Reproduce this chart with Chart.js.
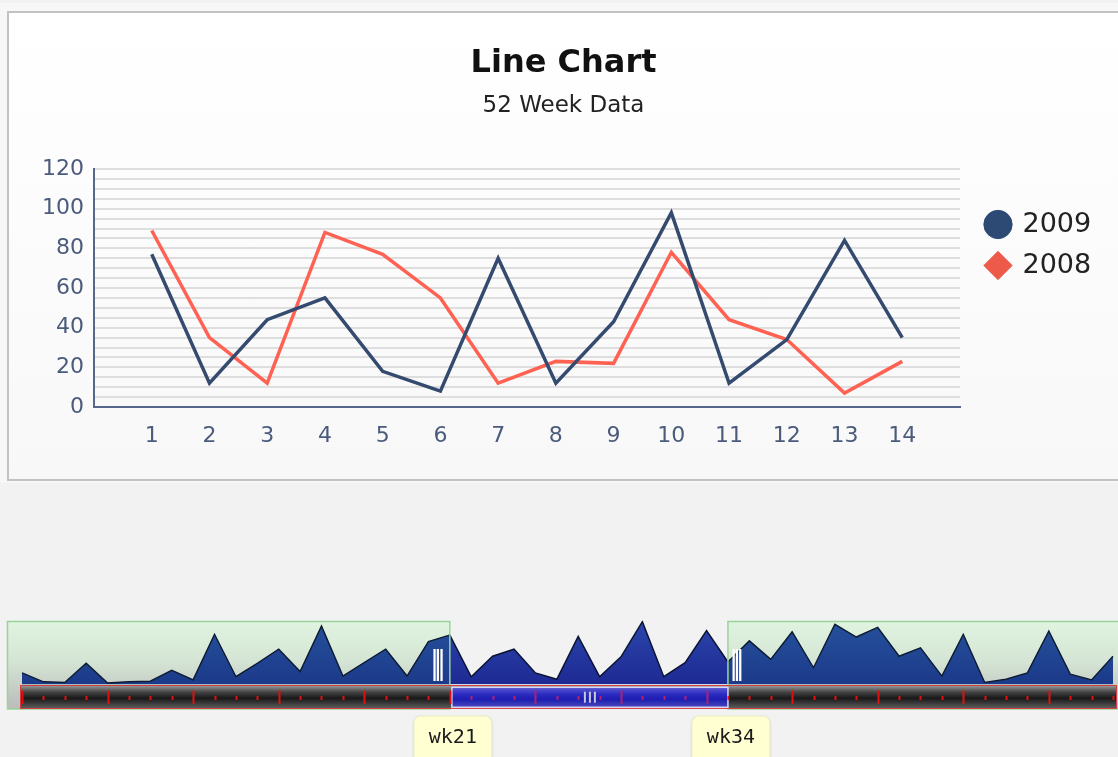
<!DOCTYPE html>
<html><head><meta charset="utf-8">
<script src="https://cdn.jsdelivr.net/npm/chart.js@4.4.1/dist/chart.umd.min.js"></script>
<style>
html,body{margin:0;padding:0;background:#f2f2f2;width:1118px;height:757px;overflow:hidden;position:relative;}
#strip{position:absolute;left:0;top:3px;width:1118px;height:480px;background:#f7f7f7;}
#panel{position:absolute;left:7px;top:11px;width:1130px;height:466px;border:2px solid #c2c2c2;background:linear-gradient(#ffffff,#f8f8f8);}
#main{position:absolute;left:9px;top:13px;}
#nav{position:absolute;left:0;top:600px;}
</style></head>
<body>
<div id="strip"></div>
<div id="panel"></div>
<canvas id="main" width="1109" height="466"></canvas>
<canvas id="nav" width="1118" height="157"></canvas>
<script>
// ---- data ----
const categories = [1,2,3,4,5,6,7,8,9,10,11,12,13,14];
const series2009 = [77,12,44,55,18,8,75,12,43,98,12,34,84,35];
const series2008 = [89,35,12,88,77,55,12,23,22,78,44,34,7,23];
const yTickLabels = [0,20,40,60,80,100,120];
const weeks = ['wk1','wk2','wk3','wk4','wk5','wk6','wk7','wk8','wk9','wk10','wk11','wk12','wk13',
  'wk14','wk15','wk16','wk17','wk18','wk19','wk20','wk21','wk22','wk23','wk24','wk25','wk26',
  'wk27','wk28','wk29','wk30','wk31','wk32','wk33','wk34','wk35','wk36','wk37','wk38','wk39',
  'wk40','wk41','wk42','wk43','wk44','wk45','wk46','wk47','wk48','wk49','wk50','wk51','wk52'];
const weekly2009 = [18,4,3,33,2,4,5,22,7,78,12,33,55,20,91,13,34,55,13,67,
  77,12,44,55,18,8,75,12,43,98,12,34,84,35,
  68,39,82,26,94,74,89,44,57,13,78,3,8,18,83,16,7,44];
const selectionStart = 'wk21';
const selectionEnd = 'wk34';
const seriesNames = ['2009','2008'];

const FONT = 'DejaVu Sans';
const TICK_COLOR = '#4b5b7c';
const AXIS_COLOR = '#55678a';

// ---- main chart ----
const legendTweak = {
  id: 'legendTweak',
  beforeLayout(chart) {
    const lg = chart.legend;
    if (lg && !lg._wrappedFit) {
      const fit = lg.fit.bind(lg);
      lg.fit = function () { fit(); this.width = 158; };
      lg._wrappedFit = true;
    }
  },
  afterLayout(chart) {
    const lg = chart.legend;
    const dx = 13, dy = 28;
    lg.left += dx; lg.right += dx; lg.top += dy; lg.bottom += dy;
  }
};

new Chart(document.getElementById('main'), {
  type: 'line',
  data: {
    datasets: [
      { label: seriesNames[0], data: categories.map((c, i) => ({x: c, y: series2009[i]})),
        borderColor: '#344a6f', backgroundColor: '#2d4a74', borderWidth: 3.5,
        pointRadius: 0, pointStyle: 'circle', tension: 0 },
      { label: seriesNames[1], data: categories.map((c, i) => ({x: c, y: series2008[i]})),
        borderColor: '#ff6253', backgroundColor: '#ee5a49', borderWidth: 3.5,
        pointRadius: 0, pointStyle: 'rectRot', tension: 0 }
    ]
  },
  options: {
    responsive: false, animation: false,
    layout: { padding: 0 },
    scales: {
      x: {
        type: 'linear', min: 0, max: 15,
        grid: { display: false, drawTicks: false },
        border: { display: true, color: AXIS_COLOR, width: 2 },
        ticks: { stepSize: 1, autoSkip: false, maxRotation: 0, padding: 16, color: TICK_COLOR,
          font: { family: FONT, size: 22 },
          callback: v => categories.includes(v) ? String(v) : '' },
        afterFit: s => { s.height = 72; }
      },
      y: {
        min: 0, max: 120,
        grid: { color: '#dedede', lineWidth: 2, drawTicks: false },
        border: { display: true, color: AXIS_COLOR, width: 2 },
        ticks: { stepSize: 5, autoSkip: false, padding: 10, color: TICK_COLOR,
          font: { family: FONT, size: 22 },
          callback: v => yTickLabels.includes(v) ? String(v) : '' },
        afterFit: s => { s.width = 85; }
      }
    },
    plugins: {
      title: { display: true, text: 'Line Chart', color: '#111',
        font: { family: FONT, size: 32, weight: 'bold' }, padding: { top: 31, bottom: 10 } },
      subtitle: { display: true, text: '52 Week Data', color: '#222',
        font: { family: FONT, size: 23 }, padding: { top: 0, bottom: 49 } },
      legend: {
        display: true, position: 'right', align: 'start', fullSize: false,
        labels: {
          usePointStyle: true, boxWidth: 22, boxHeight: 20, padding: 14,
          color: '#222', font: { family: FONT, size: 27 },
          generateLabels: chart => Chart.defaults.plugins.legend.labels.generateLabels(chart)
            .map(l => Object.assign(l, { lineWidth: 1, strokeStyle: l.fillStyle }))
        }
      },
      tooltip: { enabled: false }
    }
  },
  plugins: [legendTweak]
});

// ---- navigator ----
const navDecor = {
  id: 'navDecor',
  beforeDatasetsDraw(chart) {
    const {ctx, scales: {x}} = chart;
    const xs = x.getPixelForValue(weeks.indexOf(selectionStart));
    const xe = x.getPixelForValue(weeks.indexOf(selectionEnd));
    const top = 21, bottom = 109;
    const g = ctx.createLinearGradient(0, top, 0, bottom);
    g.addColorStop(0, '#e0f4e0'); g.addColorStop(0.45, '#d5e5d5'); g.addColorStop(1, '#bbbbbb');
    ctx.save();
    ctx.fillStyle = g;
    ctx.fillRect(7, top, xs - 7, bottom - top);
    ctx.fillRect(xe, top, chart.width - xe + 10, bottom - top);
    ctx.restore();
  },
  afterDatasetsDraw(chart) {
    const {ctx, scales: {x}} = chart;
    const meta = chart.getDatasetMeta(0);
    const pts = meta.data;
    const base = chart.chartArea.bottom;
    const xs = x.getPixelForValue(weeks.indexOf(selectionStart));
    const xe = x.getPixelForValue(weeks.indexOf(selectionEnd));
    // tint the area under unselected overlays
    ctx.save();
    ctx.beginPath();
    ctx.moveTo(pts[0].x, base);
    pts.forEach(p => ctx.lineTo(p.x, p.y));
    ctx.lineTo(pts[pts.length - 1].x, base);
    ctx.closePath();
    ctx.clip();
    ctx.fillStyle = 'rgba(20,140,90,0.16)';
    ctx.fillRect(0, 0, xs, base);
    ctx.fillRect(xe, 0, chart.width, base);
    ctx.restore();
    // overlay borders
    ctx.save();
    ctx.strokeStyle = '#98d498'; ctx.lineWidth = 1.5;
    ctx.strokeRect(7.5, 21.5, xs - 7.5, 87.5);
    ctx.strokeRect(xe, 21.5, chart.width, 87.5);
    ctx.restore();
    // scrollbar track
    const tTop = 85, tBot = 109, tL = 20, tR = 1117;
    ctx.save();
    let g = ctx.createLinearGradient(0, tTop, 0, tBot);
    g.addColorStop(0, '#a0a0a0'); g.addColorStop(0.3, '#444444'); g.addColorStop(0.55, '#181818'); g.addColorStop(1, '#626262');
    ctx.fillStyle = g;
    ctx.fillRect(tL, tTop, tR - tL, tBot - tTop);
    ctx.strokeStyle = '#cf4040'; ctx.lineWidth = 1;
    ctx.strokeRect(tL + 0.5, tTop + 0.5, tR - tL - 1, tBot - tTop - 1);
    // thumb
    const thL = xs + 2, thR = xe, thT = 87.3, thB = 107.3;
    g = ctx.createLinearGradient(0, thT, 0, thB);
    g.addColorStop(0, '#5c5cd2'); g.addColorStop(0.35, '#2b2bc2'); g.addColorStop(0.6, '#1d1db2'); g.addColorStop(1, '#4a4abc');
    ctx.fillStyle = g;
    ctx.fillRect(thL, thT, thR - thL, thB - thT);
    ctx.strokeStyle = '#ddd6f2'; ctx.lineWidth = 1.5;
    ctx.strokeRect(thL, thT, thR - thL, thB - thT);
    // ticks
    weeks.forEach((w, i) => {
      const px = Math.round(x.getPixelForValue(i)) + 0.5;
      const major = i % 4 === 0;
      const inThumb = px > thL + 1 && px < thR - 1;
      ctx.strokeStyle = inThumb ? '#b0206e' : '#e01010';
      ctx.lineWidth = 2;
      ctx.beginPath();
      if (major) { ctx.moveTo(px, 90.5); ctx.lineTo(px, 104); }
      else { ctx.moveTo(px, 96); ctx.lineTo(px, 100); }
      ctx.stroke();
    });
    // thumb grip
    const cx = (thL + thR) / 2;
    ctx.strokeStyle = '#c9c9d4'; ctx.lineWidth = 2;
    [-5, 0, 5].forEach(d => { ctx.beginPath(); ctx.moveTo(cx + d, 91.7); ctx.lineTo(cx + d, 102.7); ctx.stroke(); });
    // handles
    ctx.strokeStyle = '#ffffff'; ctx.lineWidth = 2.3;
    [-15.3, -12, -8.3].forEach(d => { ctx.beginPath(); ctx.moveTo(xs + d, 49); ctx.lineTo(xs + d, 81); ctx.stroke(); });
    [5.7, 9, 12.3].forEach(d => { ctx.beginPath(); ctx.moveTo(xe + d, 49); ctx.lineTo(xe + d, 81); ctx.stroke(); });
    ctx.restore();
    // selection labels
    [[xs, selectionStart], [xe, selectionEnd]].forEach(([px, txt]) => {
      const c = px + 3, w = 78, top = 116, h = 48, r = 7;
      ctx.save();
      ctx.shadowColor = 'rgba(0,0,0,0.18)'; ctx.shadowBlur = 3; ctx.shadowOffsetY = 1;
      ctx.beginPath();
      ctx.roundRect(c - w / 2, top, w, h, r);
      ctx.fillStyle = '#ffffd2';
      ctx.fill();
      ctx.shadowColor = 'transparent';
      ctx.strokeStyle = '#ebebc4'; ctx.lineWidth = 1;
      ctx.stroke();
      ctx.fillStyle = '#1a1a1a';
      ctx.font = '20px "DejaVu Sans Mono"';
      ctx.textAlign = 'center'; ctx.textBaseline = 'middle';
      ctx.fillText(txt, c, 138);
      ctx.restore();
    });
  }
};

new Chart(document.getElementById('nav'), {
  type: 'line',
  data: {
    labels: weeks,
    datasets: [{
      label: seriesNames[0], data: weekly2009, fill: 'origin',
      backgroundColor: c => {
        const a = c.chart.chartArea;
        if (!a) return '#2238a0';
        const g = c.chart.ctx.createLinearGradient(0, a.top, 0, a.bottom);
        g.addColorStop(0, '#2a46aa'); g.addColorStop(1, '#1e2a94');
        return g;
      },
      borderColor: '#0c1433', borderWidth: 1.5, pointRadius: 0, tension: 0
    }]
  },
  options: {
    responsive: false, animation: false,
    layout: { padding: { left: 22, right: 5, top: 20.4, bottom: 72.6 } },
    scales: { x: { display: false }, y: { display: false, min: 0, max: 100 } },
    plugins: { legend: { display: false }, tooltip: { enabled: false } }
  },
  plugins: [navDecor]
});
</script>
</body></html>
